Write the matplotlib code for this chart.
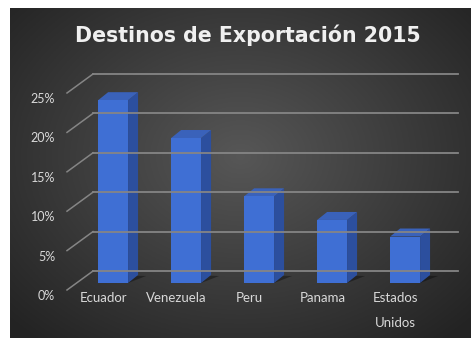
import numpy as np
import matplotlib
matplotlib.use("Agg")
import matplotlib.pyplot as plt
from matplotlib.patches import Polygon
from matplotlib.lines import Line2D

categories = ["Ecuador", "Venezuela", "Peru", "Panama", "Estados\nUnidos"]
shares = [23.2, 18.4, 11.0, 8.0, 5.9]
y_ticks = [0, 5, 10, 15, 20, 25]
y_labels = ["0%", "5%", "10%", "15%", "20%", "25%"]
title = "Destinos de Exportación 2015"

DPI = 100
W, H = 475, 339

# depth offsets in pixels (front plane -> back wall, bar front, bar depth)
BACK = (26, 19)
BAR_FRONT = (9.6, 7)
BAR_DEPTH = (10, 8)
BAR_W = 0.41

fig = plt.figure(figsize=(W / DPI, H / DPI), dpi=DPI)
fig.patch.set_facecolor("white")

# dark chart area with radial gradient
bg = fig.add_axes([10 / W, 1 / H, 461 / W, 330 / H])
yy, xx = np.mgrid[0:1:200j, 0:1:300j]
r = np.sqrt(((xx - 0.5) / 0.75) ** 2 + ((yy - 0.45) / 0.8) ** 2)
shade = np.clip(0.34 - 0.22 * r, 0.14, 0.34)
bg.imshow(np.dstack([shade] * 3), aspect="auto", extent=[0, 1, 0, 1])
bg.set_axis_off()

ax = fig.add_axes([67 / W, 49 / H, 365 / W, 197 / H])
ax.set_facecolor("none")
ax.set_xlim(-0.5, len(categories) - 0.5)
ax.set_ylim(0, 25)
for s in ax.spines.values():
    s.set_visible(False)

fig.canvas.draw()
tr = ax.transData


def px(x, y, dx=0, dy=0):
    p = tr.transform((x, y))
    return (p[0] + dx, p[1] + dy)


def poly(pts, **kw):
    ax.add_patch(Polygon(pts, closed=True, transform=None, clip_on=False,
                         edgecolor="none", **kw))


# back wall gridlines and left wall diagonals
grid_col = "#858585"
for v in y_ticks:
    a = px(-0.5, v)
    b = px(-0.5, v, *BACK)
    c = px(len(categories) - 0.5, v, *BACK)
    ax.add_line(Line2D([a[0], b[0]], [a[1], b[1]], transform=None,
                       clip_on=False, color=grid_col, lw=1.1))
    ax.add_line(Line2D([b[0], c[0]], [b[1], c[1]], transform=None,
                       clip_on=False, color=grid_col, lw=1.3))

# 3D bars
fx, fy = BAR_FRONT
dx, dy = BAR_DEPTH
for i, v in enumerate(shares):
    x0, x1 = i - BAR_W / 2, i + BAR_W / 2
    bl = px(x0, 0, fx, fy)
    br = px(x1, 0, fx, fy)
    tl = px(x0, v, fx, fy)
    trr = px(x1, v, fx, fy)
    # shadow on the floor
    poly([(bl[0] + 2, bl[1]), br, (br[0] + dx + 8, br[1] + dy - 1),
          (bl[0] + dx, bl[1] + dy)], facecolor="black", alpha=0.35)
    poly([br, trr, (trr[0] + dx, trr[1] + dy), (br[0] + dx, br[1] + dy)],
         facecolor="#2C4F9E")
    poly([tl, trr, (trr[0] + dx, trr[1] + dy), (tl[0] + dx, tl[1] + dy)],
         facecolor="#3A62BA")
    poly([bl, br, trr, tl], facecolor="#3F6FD4")

ax.set_yticks(y_ticks)
ax.set_yticklabels(y_labels)
ax.set_xticks(range(len(categories)))
ax.set_xticklabels(categories, linespacing=2.25)
ax.tick_params(axis="y", length=0, pad=8.5, colors="#D9D9D9", labelsize=9)
ax.tick_params(axis="x", length=0, pad=1.5, colors="#D9D9D9", labelsize=9.5)
for lab in ax.get_xticklabels() + ax.get_yticklabels():
    lab.set_fontfamily("Lato")
    lab.set_verticalalignment("top")

fig.text(248 / W, 1 - 35.5 / H, title, ha="center", va="center",
         fontsize=14.8, fontweight="bold", family="DejaVu Sans", color="#F0F0F0")

fig.savefig("out.png", dpi=DPI, facecolor="white")
